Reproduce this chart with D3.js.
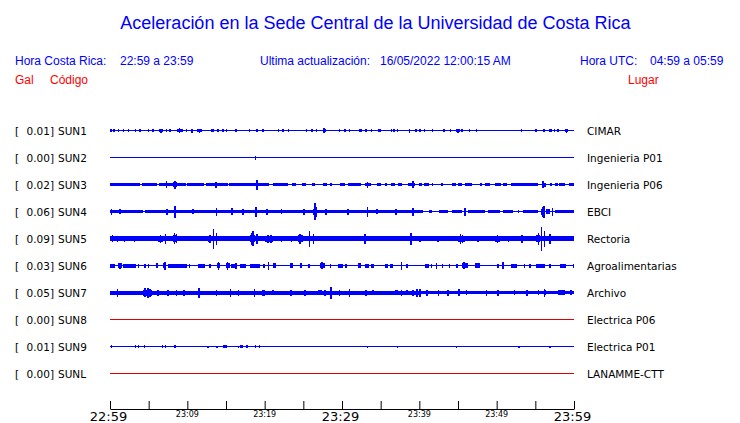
<!DOCTYPE html>
<html><head><meta charset="utf-8">
<script src="https://cdn.jsdelivr.net/npm/d3@7"></script>
<style>
html,body{margin:0;padding:0;background:#fff;}
svg{display:block;}
</style></head>
<body>
<svg id="chart" width="740" height="423"></svg>
<script>
// ---------- DATA ----------
const title = "Aceleración en la Sede Central de la Universidad de Costa Rica";
const headerLocal = ["Hora Costa Rica:", "22:59 a 23:59"];
const headerUpdate = ["Ultima actualización:", "16/05/2022 12:00:15 AM"];
const headerUTC = ["Hora UTC:", "04:59 a 05:59"];
const codes = ["SUN1","SUN2","SUN3","SUN4","SUN5","SUN6","SUN7","SUN8","SUN9","SUNL"];
const gals = [0.01, 0.00, 0.02, 0.06, 0.09, 0.03, 0.05, 0.00, 0.01, 0.00];
const places = ["CIMAR","Ingenieria P01","Ingenieria P06","EBCI","Rectoria","Agroalimentarias","Archivo","Electrica P06","Electrica P01","LANAMME-CTT"];
const hasData = [true,true,true,true,true,true,true,false,true,false];
const tickMinutes = [0,5,10,15,20,25,30,35,40,45,50,55,60];
const labelMinutes = [0,10,20,30,40,50,60];
const labelTexts = ["22:59","23:09","23:19","23:29","23:39","23:49","23:59"];
const majorLabels = ["22:59","23:29","23:59"];

// Waveform envelope events per station: [startMinute, endMinute, halfAmplitude]
const evSUN1 = [[0.13,0.13,1.5],[0.52,0.52,1.5],[1.08,1.08,1.5],[1.72,1.72,1.5],[2.37,2.37,1.5],[3.31,3.31,1.5],[3.87,3.87,1.5],[4.95,4.95,1.5],[5.59,5.59,1.5],[6.4,6.8,1.5],[6.6,6.6,2],[7.31,7.31,1.5],[7.74,7.74,1.5],[8.7,9.4,1.5],[9.0,9.0,2.5],[9.89,9.89,1.5],[10.6,10.6,2],[11.3,11.9,1.5],[11.6,11.6,2],[13.1,13.5,1.5],[13.98,13.98,1.5],[14.6,14.6,1.5],[15.05,15.05,1.5],[16.3,16.3,1.5],[18.06,18.06,1.5],[18.9,19.1,1.5],[19.8,19.8,1.5],[21.8,21.8,1.5],[22.4,22.4,1.5],[23.1,23.1,1.5],[25.4,25.4,1.5],[26.1,26.1,1.5],[26.7,26.7,1.5],[27.5,27.9,1.5],[27.7,27.7,2.5],[29.7,29.7,1.5],[30.4,30.4,1.5],[31.0,31.0,1.5],[32.2,32.6,1.5],[33.1,33.1,1.5],[33.8,33.8,1.5],[34.6,35.0,1.5],[36.4,36.4,1.5],[36.7,36.7,1.5],[37.2,37.2,1.5],[38.6,38.8,2],[39.6,39.6,1.5],[40.1,40.1,1.5],[40.7,40.7,1.5],[41.7,41.7,1.5],[43.2,43.2,1.5],[44.0,44.0,1.5],[44.8,45.2,1.5],[45.0,45.0,2],[45.5,45.5,1.5],[46.5,46.5,1.5],[47.4,47.4,1.5],[53.2,53.2,1.5],[55.1,55.1,1.5],[56.1,56.1,1.5],[56.8,57.1,1.5],[57.5,57.5,1.5],[57.9,57.9,1.5],[58.9,59.2,1.5],[59.0,59.0,2]];
const evSUN2 = [[18.8,18.8,2]];
const evSUN3 = [[0,3.9,1.7],[4.1,6.1,1.7],[6.3,9.8,1.7],[10.0,12.2,1.7],[12.4,15.2,1.7],[15.4,20.5,1.7],[7.31,7.31,3.5],[8.2,8.6,2.5],[8.4,8.4,4],[13.7,13.7,3],[19.0,19.0,5],[21.1,23.0,1.7],[23.5,24.1,1.7],[24.8,25.4,1.7],[26.1,26.5,1.7],[27.6,28.0,1.7],[28.6,28.6,1.7],[29.7,30.4,1.7],[30.8,32.5,1.7],[33.0,33.8,1.7],[33.3,33.3,3],[34.5,35.1,1.7],[35.7,35.7,1.7],[36.4,36.8,1.7],[37.2,37.7,1.7],[38.5,39.4,1.7],[39.2,39.2,3.5],[39.9,40.3,1.7],[40.6,41.2,1.7],[41.7,41.7,1.7],[42.9,42.9,1.7],[44.2,44.8,1.7],[45.0,45.5,1.7],[45.9,46.8,1.7],[48.0,48.0,1.7],[48.5,49.1,1.7],[49.8,50.6,1.7],[50.8,51.3,1.7],[51.9,55.4,1.7],[55.8,56.4,2],[56.0,56.0,3.5],[56.9,57.1,1.7],[57.5,57.9,1.7],[58.0,58.8,1.7],[59.4,60,1.7]];
const evSUN4 = [[0,4.3,1.7],[4.5,40.5,1.7],[0.2,0.2,3],[1.29,1.29,2.5],[7.3,7.5,3],[8.39,8.39,6],[10.75,10.75,2.5],[13.8,13.8,4],[15.8,15.8,3.5],[17.2,17.2,3],[18.9,18.9,5],[20.3,20.3,3],[22.2,22.2,2.5],[25.1,25.1,3],[26.3,26.8,3],[26.5,26.5,8.5],[26.7,26.7,5],[27.9,27.9,3],[30.8,30.8,3],[33.3,33.3,5],[34.5,34.5,2.5],[37.0,37.0,3],[39.2,39.2,4],[41.2,41.6,1.5],[42.5,43.7,1.5],[44.2,45.5,1.5],[45.9,45.9,4],[46.3,48.5,1.5],[48.9,50.4,1.5],[50.8,52.1,1.5],[52.8,52.8,1.5],[53.4,55.4,1.7],[55.7,56.3,3],[55.9,55.9,5],[56.1,56.1,6],[56.4,56.9,2.5],[57.2,57.2,4],[57.5,60,1.7]];
const evSUN5 = [[0,60,2.3],[0,0.65,2.8],[0.3,0.3,3.5],[1.0,1.0,3],[1.85,1.85,3],[2.58,2.58,2.5],[3.2,3.2,3],[4.5,4.5,2.5],[6.2,6.9,3],[6.5,6.5,4],[7.2,7.2,5],[8.2,8.6,3.2],[8.35,8.35,5.5],[8.6,8.6,4.5],[10.75,10.75,2.5],[12.7,13.1,3],[12.9,12.9,4],[13.4,13.4,10],[13.8,13.8,6],[15.7,16.6,2.8],[18.1,18.7,3.5],[18.3,18.3,6],[18.5,18.5,7.5],[19.0,19.0,5],[20.0,21.1,3],[20.4,20.4,4],[20.8,20.8,4],[22.2,22.2,3],[23.5,23.5,3],[24.3,25.0,3.2],[24.6,24.6,5],[25.8,25.8,8],[26.3,26.3,5],[27.8,27.8,2.5],[29.5,30.4,2.8],[31.2,32.5,2.8],[33.0,33.0,5],[34.5,34.5,2.5],[36.0,36.0,2.5],[37.7,38.5,2.8],[38.9,38.9,6],[40.1,40.1,3],[41.2,41.2,2.5],[42.4,42.4,3],[43.7,43.7,2.5],[45.0,45.9,3],[45.3,45.3,5],[45.6,45.6,4],[47.0,47.0,2.5],[47.6,47.6,3],[49.8,50.4,3],[50.1,50.1,4],[51.5,51.5,3],[53.3,53.3,4],[53.6,54.9,2.8],[55.1,55.6,3.5],[55.4,55.4,6],[55.8,55.8,12],[56.2,56.2,8],[56.9,56.9,5],[57.9,60,2.5]];
const evSUN6 = [[0,0.65,2],[1.08,1.5,2.5],[1.3,1.3,3],[1.72,3.4,2],[3.66,3.66,2],[4.5,4.5,2],[4.95,4.95,2],[6.0,6.2,2.5],[6.9,7.3,2.5],[7.1,7.1,4],[7.5,9.9,2],[10.3,10.3,2],[11.4,12.3,2],[12.9,12.9,2],[13.8,14.2,2.5],[14.0,14.0,4],[15.05,15.5,2.5],[15.2,15.2,4],[15.7,16.4,2],[16.3,16.3,3],[16.8,17.6,2],[18.1,19.4,2],[19.8,20.0,2],[20.5,20.5,4],[21.1,21.5,2.5],[23.3,23.7,2.5],[24.6,24.8,2.5],[25.6,25.9,2],[27.1,27.8,2.5],[27.4,27.4,3.5],[28.5,28.5,2],[29.5,30.1,2],[30.4,30.6,2],[32.1,32.5,2.5],[33.0,33.5,2],[33.8,34.2,2],[35.5,36.0,2],[36.2,36.6,2],[37.7,37.7,4],[38.3,38.5,2],[40.7,41.2,2],[41.6,41.6,2],[42.2,42.2,3],[42.9,43.1,2],[43.9,43.9,2],[44.8,45.0,2],[45.5,46.3,2.5],[45.8,45.8,3.5],[47.2,47.8,2.5],[50.2,50.2,2],[50.8,50.8,3.5],[51.9,52.6,2],[53.6,53.6,2],[54.3,54.3,2],[55.1,56.2,2],[56.9,56.9,2],[58.2,59.0,2],[59.9,60,2]];
const evSUN7 = [[0,40,2],[40,60,1.6],[1.0,1.0,4],[4.3,5.4,3],[4.5,4.5,4.5],[4.9,4.9,5],[5.2,5.2,4],[6.2,6.2,3],[7.5,7.5,3],[8.6,8.6,3],[9.6,9.6,3],[11.5,11.5,5],[13.8,13.8,3],[15.6,15.6,4],[16.6,16.6,3],[18.7,18.7,4],[19.7,20.0,3],[21.1,21.1,2.5],[23.4,23.4,3],[25.2,25.2,3],[26.9,27.4,2.5],[27.8,27.8,3],[28.6,28.6,6],[29.7,29.7,3],[31.0,31.0,4],[33.1,33.1,3],[34.0,34.0,2.5],[36.8,37.2,2.5],[37.7,37.7,3],[38.3,38.5,2.5],[39.2,39.2,3],[39.7,39.7,4],[40.1,40.1,4],[41.0,41.0,3],[42.5,42.5,3],[43.7,43.7,3],[45.0,45.3,2.5],[45.1,45.1,3.5],[46.1,46.1,2.5],[48.7,48.7,3],[50.2,50.2,3],[52.3,52.3,2.5],[53.9,53.9,3],[55.4,55.4,2.5],[56.1,56.4,2.5],[56.2,56.2,4],[57.9,58.8,2.2],[59.6,59.6,2.5]];
const evSUN8 = [];
const evSUN9 = [[0.2,0.2,1.5],[3.3,3.3,1.5],[3.66,3.66,1.5],[4.43,4.43,1.5],[6.8,6.8,1.5],[7.2,7.2,1.5],[8.4,8.4,1.5],[12.7,12.7,1],[13.85,13.85,1],[14.75,14.75,1.5],[15.0,15.0,1.5],[16.6,16.6,1],[16.9,16.9,1.5],[17.1,17.1,1.5],[17.7,17.7,1.5],[18.7,18.9,1.5],[19.3,19.3,1.5],[33.3,33.3,1],[37.2,37.2,1],[44.8,44.8,1],[52.9,52.9,1],[56.9,56.9,1]];
const evSUNL = [];
const events = [evSUN1,evSUN2,evSUN3,evSUN4,evSUN5,evSUN6,evSUN7,evSUN8,evSUN9,evSUNL];

// ---------- DRAW ----------
const svg = d3.select("#chart");
const blue = "#0000ff", red = "#ff0000", redLine = "#e00000";

const x = d3.scaleLinear().domain([0,60]).range([110,574]);
const lane = d3.scalePoint().domain(codes).range([130.5, 373.5]);
const amp = d3.scaleLinear().domain([0,1]).range([0,1]);

// title & headers
svg.append("text").attr("x",375.5).attr("y",29).attr("text-anchor","middle")
  .attr("font-family","Liberation Sans, Arial, sans-serif").attr("font-size",18)
  .attr("fill",blue).text(title);

const hdr = svg.append("g").attr("font-family","Liberation Sans, Arial, sans-serif").attr("font-size",12).attr("fill",blue);
hdr.append("text").attr("x",15).attr("y",65).text(headerLocal[0]);
hdr.append("text").attr("x",120).attr("y",65).text(headerLocal[1]);
hdr.append("text").attr("x",260).attr("y",65).text(headerUpdate[0]);
hdr.append("text").attr("x",380).attr("y",65).text(headerUpdate[1]);
hdr.append("text").attr("x",580).attr("y",65).text(headerUTC[0]);
hdr.append("text").attr("x",650).attr("y",65).text(headerUTC[1]);
const hdr2 = svg.append("g").attr("font-family","Liberation Sans, Arial, sans-serif").attr("font-size",12).attr("fill",red);
hdr2.append("text").attr("x",15).attr("y",84).text("Gal");
hdr2.append("text").attr("x",50).attr("y",84).text("Código");
hdr2.append("text").attr("x",628).attr("y",84).text("Lugar");

// row labels
const lab = svg.append("g").attr("font-family","DejaVu Sans, sans-serif").attr("font-size",10.5).attr("fill","#000");
codes.forEach((c,i)=>{
  const y = lane(c) + 4;
  lab.append("text").attr("x",15).attr("y",y).text("[");
  lab.append("text").attr("x",54).attr("y",y).attr("text-anchor","end").text(gals[i].toFixed(2)+"]");
  lab.append("text").attr("x",58).attr("y",y).text(c);
  lab.append("text").attr("x",587).attr("y",y).text(places[i]);
});

// traces
const traces = svg.append("g").attr("shape-rendering","crispEdges");
codes.forEach((c,i)=>{
  const g = traces.append("g");
  const col = hasData[i] ? blue : redLine;
  const y0 = lane(c);
  g.append("line").attr("x1",x(0)).attr("x2",x(60)).attr("y1",y0).attr("y2",y0)
    .attr("stroke",col).attr("stroke-width",1);
  g.selectAll("rect").data(events[i]).join("rect")
    .attr("x", d => { const a=x(d[0]), b=x(d[1]); return (b-a<1.5) ? (a+b)/2-0.75 : a; })
    .attr("width", d => Math.max(1.5, x(d[1])-x(d[0])))
    .attr("y", d => y0 - amp(d[2]))
    .attr("height", d => 2*amp(d[2]))
    .attr("fill", col);
});

// time axis
const axis = d3.axisBottom(x).tickValues(tickMinutes).tickSizeInner(-8).tickSizeOuter(0).tickFormat("");
const ax = svg.append("g").attr("transform","translate(0,409)").call(axis);
ax.select(".domain").attr("stroke","#000");
ax.selectAll(".tick line").attr("stroke","#000");
const tl = svg.append("g").attr("font-family","DejaVu Sans, sans-serif").attr("fill","#000").attr("text-anchor","middle");
labelMinutes.forEach((m,i)=>{
  const major = majorLabels.includes(labelTexts[i]);
  tl.append("text").attr("x",x(m) - (major ? 1.5 : 0)).attr("y", major ? 421 : 417)
    .attr("font-size", major ? 13 : 8).text(labelTexts[i]);
});
</script>
</body></html>
